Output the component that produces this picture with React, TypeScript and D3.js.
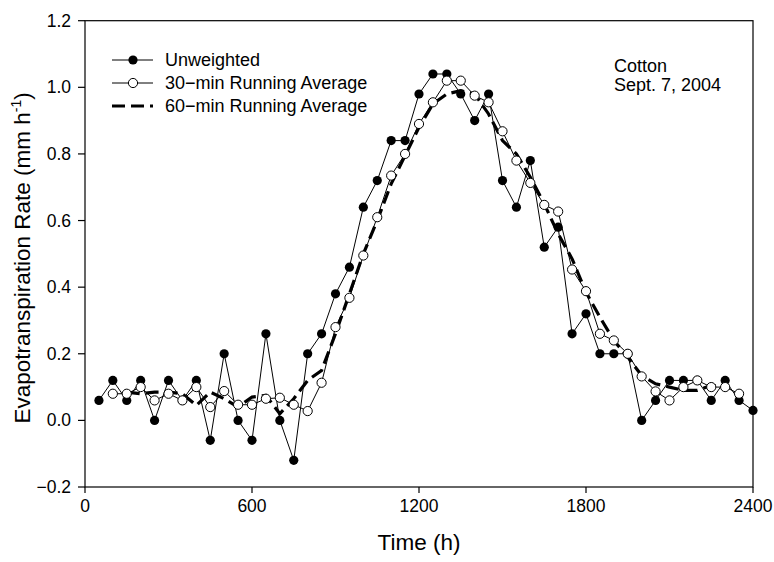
import React from "react";
import * as d3 from "d3";

const unwTimes = [50,100,150,200,250,300,350,400,450,500,550,600,650,700,750,800,850,900,950,1000,1050,1100,1150,1200,1250,1300,1350,1400,1450,1500,1550,1600,1650,1700,1750,1800,1850,1900,1950,2000,2050,2100,2150,2200,2250,2300,2350,2400];
const unweighted = [0.06,0.12,0.06,0.12,0.0,0.12,0.06,0.12,-0.06,0.2,0.0,-0.06,0.26,0.0,-0.12,0.2,0.26,0.38,0.46,0.64,0.72,0.84,0.84,0.98,1.04,1.04,0.98,0.9,0.98,0.72,0.64,0.78,0.52,0.58,0.26,0.32,0.2,0.2,0.2,0.0,0.06,0.12,0.12,0.12,0.06,0.12,0.06,0.03];

const avg30Times = [100,150,200,250,300,350,400,450,500,550,600,650,700,750,800,850,900,950,1000,1050,1100,1150,1200,1250,1300,1350,1400,1450,1500,1550,1600,1650,1700,1750,1800,1850,1900,1950,2000,2050,2100,2150,2200,2250,2300,2350];
const avg30 = [0.08,0.08,0.1,0.06,0.08,0.06,0.1,0.04,0.088,0.047,0.047,0.065,0.068,0.047,0.028,0.113,0.28,0.368,0.495,0.61,0.735,0.8,0.89,0.955,1.02,1.02,0.975,0.955,0.868,0.78,0.713,0.647,0.627,0.453,0.388,0.26,0.24,0.2,0.132,0.087,0.06,0.1,0.12,0.1,0.1,0.08];

const avg60Times = [150,200,250,300,350,400,450,500,550,600,650,700,750,800,850,900,950,1000,1050,1100,1150,1200,1250,1300,1350,1400,1450,1500,1550,1600,1650,1700,1750,1800,1850,1900,1950,2000,2050,2100,2150,2200,2250,2300];
const avg60 = [0.085,0.08,0.085,0.085,0.08,0.045,0.085,0.065,0.04,0.07,0.075,0.02,0.065,0.12,0.15,0.26,0.38,0.5,0.6,0.71,0.795,0.88,0.95,0.98,0.99,0.98,0.92,0.84,0.8,0.73,0.65,0.56,0.485,0.385,0.31,0.24,0.19,0.135,0.11,0.1,0.09,0.09,0.105,0.1];

const xTicks = [0, 600, 1200, 1800, 2400];
const yTicks = [-0.2, 0.0, 0.2, 0.4, 0.6, 0.8, 1.0, 1.2];

const legendLabels = ["Unweighted", "30\u2212min Running Average", "60\u2212min Running Average"];
const noteLines = ["Cotton", "Sept. 7, 2004"];

const FONT = "'Liberation Sans', Arial, Helvetica, sans-serif";

export default function App() {
  const W = 774, H = 562;
  const left = 85, right = 753, top = 20.7, bottom = 487;
  const x = d3.scaleLinear().domain([0, 2400]).range([left, right]);
  const y = d3.scaleLinear().domain([-0.2, 1.2]).range([bottom, top]);

  const line = d3.line<[number, number]>().x(d => x(d[0])).y(d => y(d[1]));
  const unwPts = unwTimes.map((t, i) => [t, unweighted[i]] as [number, number]);
  const a30Pts = avg30Times.map((t, i) => [t, avg30[i]] as [number, number]);
  const a60Pts = avg60Times.map((t, i) => [t, avg60[i]] as [number, number]);

  const r = 4.6;
  const legY = [60, 83, 106];

  return (
    <svg width={W} height={H} style={{ position: "absolute", left: 0, top: 0, background: "#fff" }} fontFamily={FONT}>
      <rect x={0} y={0} width={W} height={H} fill="#fff" />
      <rect x={left} y={top} width={right - left} height={bottom - top} fill="none" stroke="#000" strokeWidth={1.2} />
      {xTicks.map(t => (
        <g key={"xt" + t}>
          <line x1={x(t)} x2={x(t)} y1={bottom} y2={bottom + 6} stroke="#000" strokeWidth={1.2} />
          <text x={x(t)} y={bottom + 25} textAnchor="middle" fontSize={17.5}>{t}</text>
        </g>
      ))}
      {yTicks.map(t => (
        <g key={"yt" + t}>
          <line x1={left - 7} x2={left} y1={y(t)} y2={y(t)} stroke="#000" strokeWidth={1.2} />
          <text x={left - 14} y={y(t) + 6} textAnchor="end" fontSize={17.5}>{t < 0 ? "\u2212" + Math.abs(t).toFixed(1) : t.toFixed(1)}</text>
        </g>
      ))}
      <text x={(left + right) / 2} y={550} textAnchor="middle" fontSize={22.5}>Time (h)</text>
      <text transform={`translate(30,${(top + bottom) / 2 + 4}) rotate(-90)`} textAnchor="middle" fontSize={22.5}>
        Evapotranspiration Rate (mm h<tspan dy={-9} fontSize={14}>{"-1"}</tspan><tspan dy={9}>)</tspan>
      </text>

      <path d={line(a60Pts) || ""} fill="none" stroke="#000" strokeWidth={3.2} strokeDasharray="13,6" />
      <path d={line(unwPts) || ""} fill="none" stroke="#000" strokeWidth={1} />
      {unwPts.map((p, i) => (
        <circle key={"u" + i} cx={x(p[0])} cy={y(p[1])} r={r} fill="#000" />
      ))}
      <path d={line(a30Pts) || ""} fill="none" stroke="#000" strokeWidth={1} />
      {a30Pts.map((p, i) => (
        <circle key={"a" + i} cx={x(p[0])} cy={y(p[1])} r={r} fill="#fff" stroke="#000" strokeWidth={1} />
      ))}

      <line x1={112} x2={153} y1={legY[0]} y2={legY[0]} stroke="#000" strokeWidth={1} />
      <circle cx={133} cy={legY[0]} r={r} fill="#000" />
      <line x1={112} x2={153} y1={legY[1]} y2={legY[1]} stroke="#000" strokeWidth={1} />
      <circle cx={133} cy={legY[1]} r={r} fill="#fff" stroke="#000" strokeWidth={1} />
      <line x1={112} x2={153} y1={legY[2]} y2={legY[2]} stroke="#000" strokeWidth={3.2} strokeDasharray="13,6" />
      {legendLabels.map((l, i) => (
        <text key={l} x={165} y={legY[i] + 6} fontSize={18}>{l}</text>
      ))}
      {noteLines.map((l, i) => (
        <text key={l} x={614} y={72 + i * 19} fontSize={18}>{l}</text>
      ))}
    </svg>
  );
}
